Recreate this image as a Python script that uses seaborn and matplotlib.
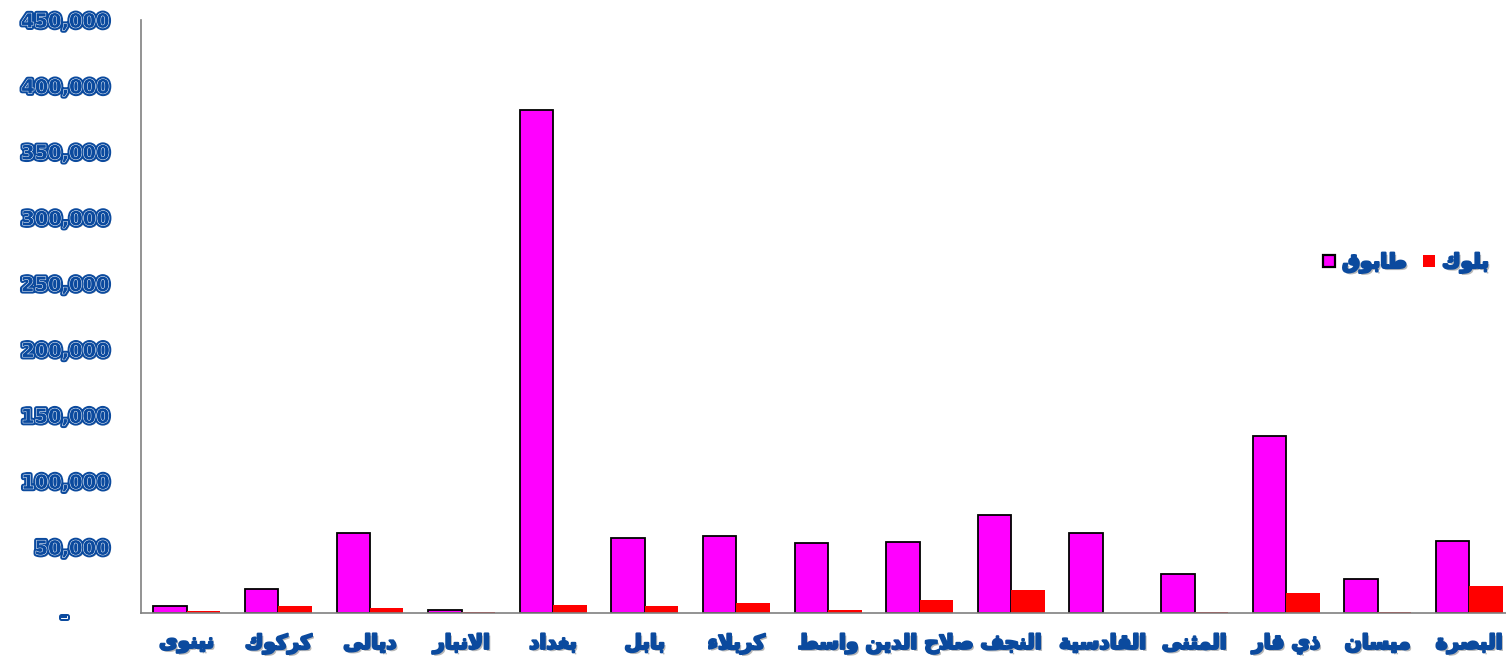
import matplotlib
matplotlib.use("Agg")
import matplotlib.pyplot as plt
import matplotlib.patheffects as pe
import matplotlib.transforms as mtransforms
from matplotlib.patches import Patch
import seaborn as sns
import pandas as pd

# governorates (left to right as in the chart)
regions = ["نينوى", "كركوك", "ديالى", "الانبار", "بغداد", "بابل", "كربلاء", "واسط",
           "صلاح الدين", "النجف", "القادسية", "المثنى", "ذي قار", "ميسان", "البصرة"]
series_names = ["طابوق", "بلوك"]
brick = [5300, 18500, 61000, 2300, 381700, 57200, 58400, 53400,
         53900, 74400, 60500, 29400, 134300, 25800, 54400]
block = [1800, 5100, 4100, 1000, 5800, 5100, 7900, 2000,
         10200, 17800, 300, 1000, 15500, 500, 20800]
yticks = [0, 50000, 100000, 150000, 200000, 250000, 300000, 350000, 400000, 450000]

# matplotlib has no arabic shaping, so map letters to presentation forms by hand
FORMS = {
    "ا": ("\uFE8D", "\uFE8E", None, None),
    "ب": ("\uFE8F", "\uFE90", "\uFE91", "\uFE92"),
    "ة": ("\uFE93", "\uFE94", None, None),
    "ث": ("\uFE99", "\uFE9A", "\uFE9B", "\uFE9C"),
    "ج": ("\uFE9D", "\uFE9E", "\uFE9F", "\uFEA0"),
    "ح": ("\uFEA1", "\uFEA2", "\uFEA3", "\uFEA4"),
    "د": ("\uFEA9", "\uFEAA", None, None),
    "ذ": ("\uFEAB", "\uFEAC", None, None),
    "ر": ("\uFEAD", "\uFEAE", None, None),
    "س": ("\uFEB1", "\uFEB2", "\uFEB3", "\uFEB4"),
    "ص": ("\uFEB9", "\uFEBA", "\uFEBB", "\uFEBC"),
    "ط": ("\uFEC1", "\uFEC2", "\uFEC3", "\uFEC4"),
    "غ": ("\uFECD", "\uFECE", "\uFECF", "\uFED0"),
    "ف": ("\uFED1", "\uFED2", "\uFED3", "\uFED4"),
    "ق": ("\uFED5", "\uFED6", "\uFED7", "\uFED8"),
    "ك": ("\uFED9", "\uFEDA", "\uFEDB", "\uFEDC"),
    "ل": ("\uFEDD", "\uFEDE", "\uFEDF", "\uFEE0"),
    "م": ("\uFEE1", "\uFEE2", "\uFEE3", "\uFEE4"),
    "ن": ("\uFEE5", "\uFEE6", "\uFEE7", "\uFEE8"),
    "و": ("\uFEED", "\uFEEE", None, None),
    "ى": ("\uFEEF", "\uFEF0", None, None),
    "ي": ("\uFEF1", "\uFEF2", "\uFEF3", "\uFEF4"),
    "ء": ("\uFE80", None, None, None),
    "LA": ("\uFEFB", "\uFEFC", None, None),
}


def shape(word):
    letters = []
    i = 0
    while i < len(word):
        if word[i] == "ل" and i + 1 < len(word) and word[i + 1] == "ا":
            letters.append("LA")
            i += 2
        else:
            letters.append(word[i])
            i += 1
    res = []
    for k, c in enumerate(letters):
        if c not in FORMS:
            res.append(c)
            continue
        prev = letters[k - 1] if k > 0 else None
        nxt = letters[k + 1] if k + 1 < len(letters) else None
        iso, fin, ini, med = FORMS[c]
        join_prev = prev in FORMS and FORMS[prev][2] is not None
        join_next = ini is not None and nxt in FORMS
        if join_prev and join_next:
            res.append(med)
        elif join_prev:
            res.append(fin or iso)
        elif join_next:
            res.append(ini)
        else:
            res.append(iso)
    return "".join(reversed(res))


df = pd.DataFrame({
    "region": regions * 2,
    "kind": [series_names[0]] * len(regions) + [series_names[1]] * len(regions),
    "value": brick + block,
})

blue = "#0B4A9E"
txt_fx = [pe.SimplePatchShadow(offset=(1.5, -1.5), shadow_rgbFace="#888888", alpha=0.6),
          pe.Stroke(linewidth=3.6, foreground=blue),
          pe.Stroke(linewidth=0.7, foreground="white"),
          pe.Normal()]
ar_fx = [pe.SimplePatchShadow(offset=(1.5, -1.5), shadow_rgbFace="#888888", alpha=0.6),
         pe.Stroke(linewidth=1.6, foreground=blue),
         pe.Normal()]

sns.set_style("white")
plt.rcParams["font.family"] = ["DejaVu Sans"]

fig = plt.figure(figsize=(15.06, 6.66), dpi=100)
ax = fig.add_axes([141 / 1506, 53 / 666, 1 - 141 / 1506, 593 / 666])

sns.barplot(data=df, x="region", y="value", hue="kind", hue_order=series_names,
            palette={series_names[0]: "#FF00FF", series_names[1]: "#FF0000"},
            width=0.73, saturation=1, ax=ax, legend=False)

for bar in ax.containers[0]:
    bar.set_edgecolor("black")
    bar.set_linewidth(1.3)
for bar in ax.containers[1]:
    bar.set_linewidth(0)

ax.set_xlim(-0.5, 14.4)
ax.set_ylim(0, 450000)
ax.set_yticks(yticks)
ax.set_yticklabels(["-"] + [f"{v:,}" for v in yticks[1:]])
ax.set_xticks(range(len(regions)))
ax.set_xticklabels([shape(r) for r in regions])
ax.set_xlabel("")
ax.set_ylabel("")

ax.tick_params(axis="y", length=0, pad=23)
ax.tick_params(axis="x", length=0, pad=15)
for lab in ax.get_yticklabels():
    lab.set_fontsize(14)
    lab.set_fontweight("bold")
    lab.set_color(blue)
    lab.set_path_effects(txt_fx)
zero = ax.get_yticklabels()[0]
zero.set_transform(zero.get_transform() + mtransforms.ScaledTranslation(-0.41, -0.02, fig.dpi_scale_trans))
for lab in ax.get_xticklabels():
    lab.set_fontsize(14.5)
    lab.set_fontweight("bold")
    lab.set_color(blue)
    lab.set_path_effects(ar_fx)

for side in ["top", "right"]:
    ax.spines[side].set_visible(False)
for side in ["left", "bottom"]:
    ax.spines[side].set_color("#808080")
    ax.spines[side].set_linewidth(1.2)

handles = [Patch(facecolor="#FF00FF", edgecolor="black", linewidth=1.6),
           Patch(facecolor="#FF0000", edgecolor="none")]
leg = ax.legend(handles, [shape(s) for s in series_names], ncol=2, frameon=False,
                loc="center", bbox_to_anchor=(1406 / 1506, 1 - 263 / 666),
                bbox_transform=fig.transFigure,
                handlelength=0.6, handleheight=0.6, handletextpad=0.35, columnspacing=0.8,
                prop={"size": 14.5, "weight": "bold"})
for t in leg.get_texts():
    t.set_color(blue)
    t.set_path_effects(ar_fx)

fig.savefig("out.png", dpi=100)
